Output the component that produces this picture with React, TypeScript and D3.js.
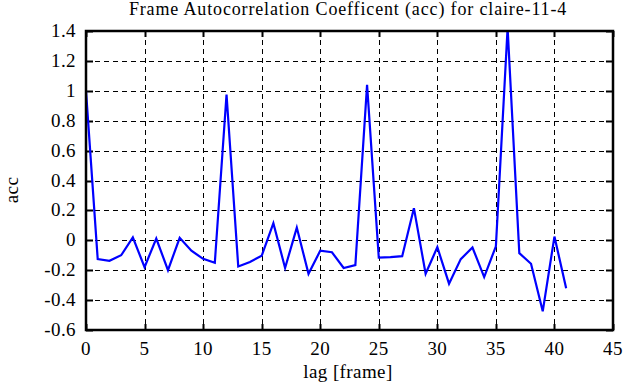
import React from "react";
import * as d3 from "d3";

const lags: number[] = d3.range(0, 42);
const acc: number[] = [
  1.0, -0.126, -0.137, -0.1, 0.02, -0.18, 0.012, -0.2, 0.017, -0.07,
  -0.124, -0.15, 0.975, -0.175, -0.145, -0.104, 0.115, -0.185, 0.085, -0.224,
  -0.07, -0.08, -0.185, -0.166, 1.04, -0.115, -0.112, -0.106, 0.215, -0.224,
  -0.046, -0.29, -0.126, -0.048, -0.246, -0.04, 1.42, -0.086, -0.157, -0.475,
  0.025, -0.32,
];
const xTicks: number[] = [0, 5, 10, 15, 20, 25, 30, 35, 40, 45];
const yTicks: number[] = [-0.6, -0.4, -0.2, 0, 0.2, 0.4, 0.6, 0.8, 1, 1.2, 1.4];
const title = "Frame Autocorrelation Coefficent (acc) for claire-11-4";
const xLabel = "lag [frame]";
const yLabel = "acc";

export default function App() {
  const W = 630, H = 387;
  const L = 86, R = 613, T = 31, B = 330;
  const x = d3.scaleLinear().domain([0, 45]).range([L, R]);
  const y = d3.scaleLinear().domain([-0.6, 1.4]).range([B, T]);
  const line = d3
    .line<number>()
    .x((_, i) => x(lags[i]))
    .y((d) => y(d));
  const font = "'Liberation Serif', 'DejaVu Serif', serif";
  const ts: React.CSSProperties = { fontFamily: font, letterSpacing: "0.4px" };
  const fmt = (v: number) => (Math.abs(v) < 1e-9 ? "0" : String(+v.toFixed(1)));
  return (
    <svg
      width={W}
      height={H}
      style={{ position: "absolute", left: 0, top: 0, background: "#fff" }}
    >
      <defs>
        <clipPath id="plotclip">
          <rect x={L} y={T - 1} width={R - L} height={B - T + 1} />
        </clipPath>
      </defs>
      <rect x={0} y={0} width={W} height={H} fill="#fff" />
      {xTicks.slice(1, -1).map((t) => (
        <line
          key={"gx" + t}
          x1={Math.round(x(t)) + 0.5}
          x2={Math.round(x(t)) + 0.5}
          y1={T}
          y2={B}
          stroke="#000"
          strokeWidth={1}
          strokeDasharray="5,4"
        />
      ))}
      {yTicks.slice(1, -1).map((t) => (
        <line
          key={"gy" + t}
          x1={L}
          x2={R}
          y1={Math.round(y(t)) + 0.5}
          y2={Math.round(y(t)) + 0.5}
          stroke="#000"
          strokeWidth={1}
          strokeDasharray="5,4"
        />
      ))}
      {xTicks.map((t) => (
        <g key={"tx" + t}>
          <line x1={Math.round(x(t)) + 0.5} x2={Math.round(x(t)) + 0.5} y1={B} y2={B - 6} stroke="#000" strokeWidth={2} />
          <line x1={Math.round(x(t)) + 0.5} x2={Math.round(x(t)) + 0.5} y1={T} y2={T + 6} stroke="#000" strokeWidth={2} />
          <text x={x(t)} y={355} textAnchor="middle" fontSize={19} fill="#000" style={ts}>
            {fmt(t)}
          </text>
        </g>
      ))}
      {yTicks.map((t) => (
        <g key={"ty" + t}>
          <line x1={L} x2={L + 7} y1={Math.round(y(t)) + 0.5} y2={Math.round(y(t)) + 0.5} stroke="#000" strokeWidth={2} />
          <line x1={R} x2={R - 7} y1={Math.round(y(t)) + 0.5} y2={Math.round(y(t)) + 0.5} stroke="#000" strokeWidth={2} />
          <text x={76} y={y(t) + 6} textAnchor="end" fontSize={19} fill="#000" style={ts}>
            {fmt(t)}
          </text>
        </g>
      ))}
      <path
        d={line(acc) || ""}
        fill="none"
        stroke="#0000ff"
        strokeWidth={2.2}
        strokeLinejoin="miter"
        clipPath="url(#plotclip)"
      />
      <rect x={L} y={T} width={R - L} height={B - T} fill="none" stroke="#000" strokeWidth={2.5} />
      <text x={348} y={15} textAnchor="middle" fontSize={18} fill="#000" style={{ fontFamily: font, letterSpacing: "0.85px" }}>
        {title}
      </text>
      <text x={348} y={378} textAnchor="middle" fontSize={19} fill="#000" style={ts}>
        {xLabel}
      </text>
      <text
        transform={`translate(18,190) rotate(-90)`}
        textAnchor="middle"
        fontSize={19}
        fill="#000"
        style={ts}
      >
        {yLabel}
      </text>
    </svg>
  );
}
